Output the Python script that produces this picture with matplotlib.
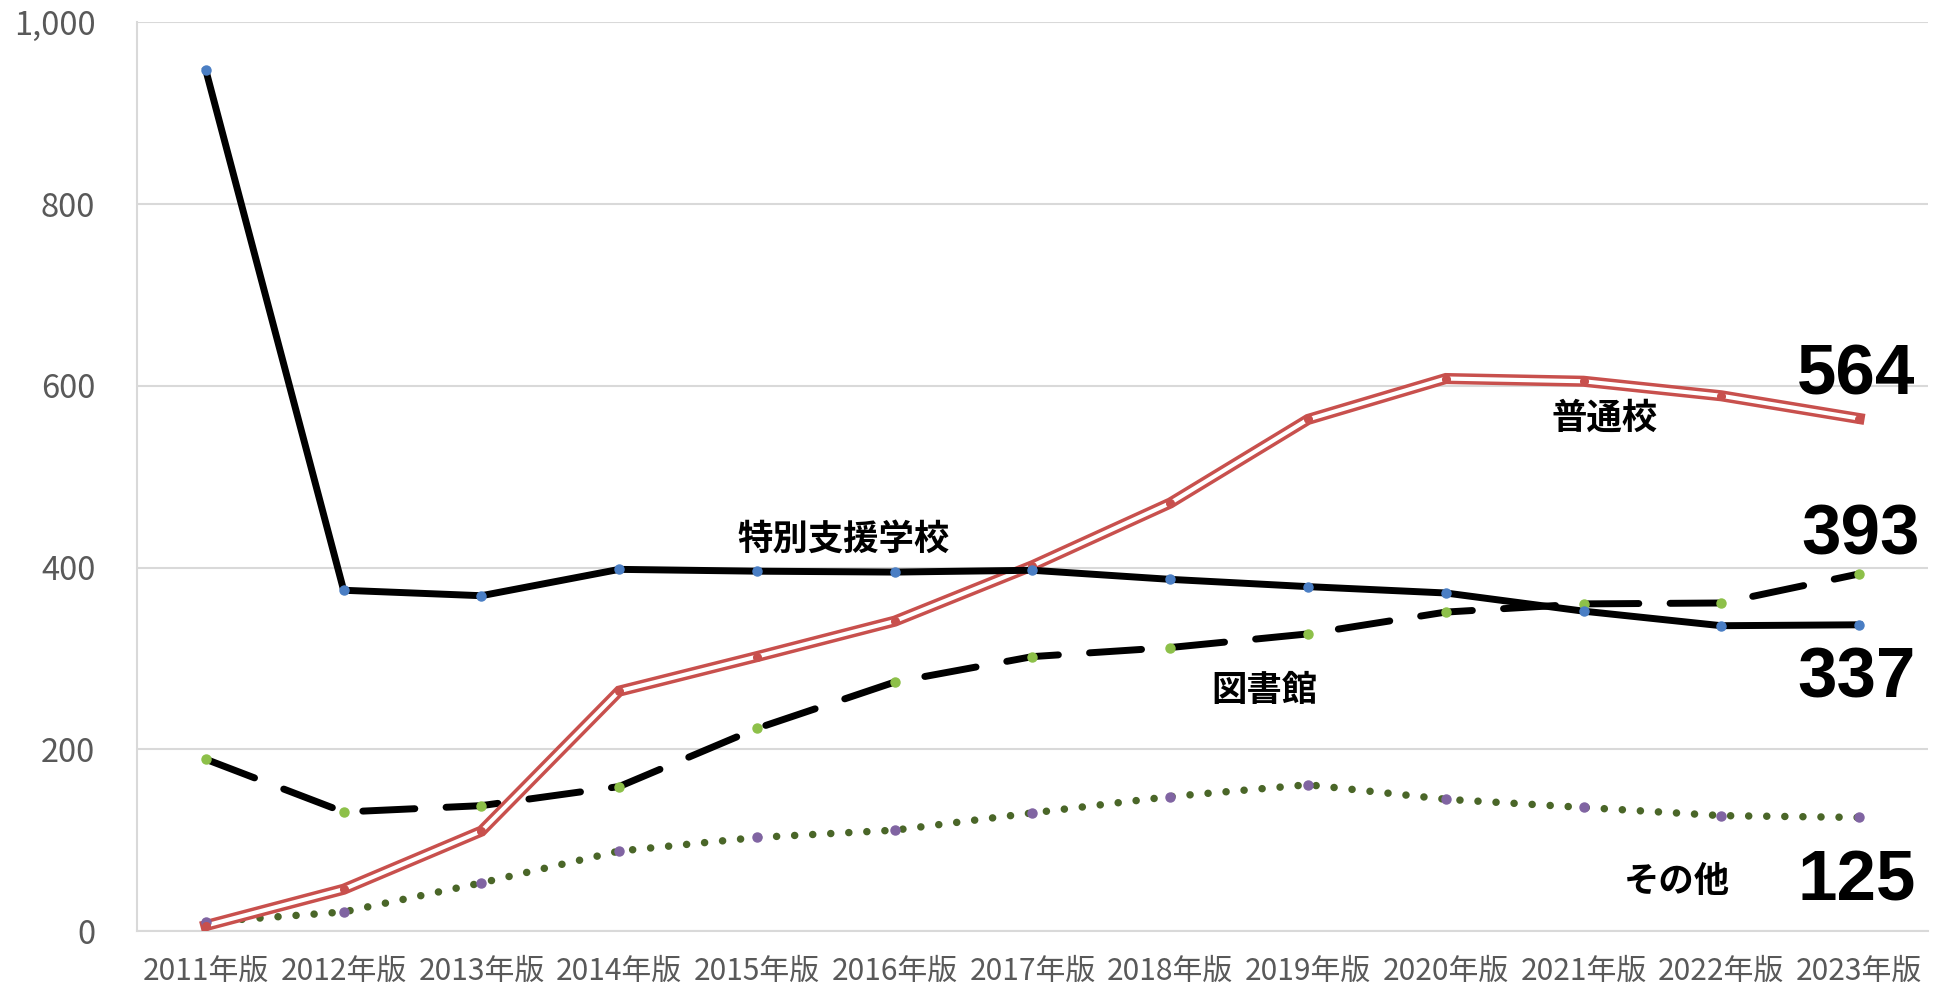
import matplotlib
matplotlib.use("Agg")
import matplotlib.pyplot as plt
from matplotlib.ticker import FuncFormatter

plt.rcParams['font.family'] = ['Noto Sans CJK JP', 'DejaVu Sans']

years = ['2011年版', '2012年版', '2013年版', '2014年版', '2015年版', '2016年版', '2017年版',
         '2018年版', '2019年版', '2020年版', '2021年版', '2022年版', '2023年版']

tokubetsu = [947, 375, 369, 398, 396, 395, 397, 387, 379, 372, 352, 336, 337]   # 特別支援学校
futsu = [6, 46, 110, 264, 302, 341, 402, 471, 563, 608, 605, 589, 564]          # 普通校
toshokan = [189, 131, 138, 159, 223, 274, 302, 312, 327, 351, 360, 361, 393]    # 図書館
sonota = [10, 21, 53, 88, 103, 111, 130, 148, 161, 145, 136, 127, 125]          # その他

x = list(range(len(years)))

fig = plt.figure(figsize=(19.49, 9.91), dpi=100)
ax = fig.add_axes([0.0703, 0.0605, 0.9189, 0.917])

# grid / axes
ax.set_ylim(0, 1000)
ax.set_xlim(-0.5, len(years) - 0.5)
ax.set_yticks(range(0, 1001, 200))
ax.yaxis.set_major_formatter(FuncFormatter(lambda v, p: f'{int(v):,}'))
ax.grid(axis='y', color='#d9d9d9', lw=1.5, zorder=0)
for s in ['top', 'right']:
    ax.spines[s].set_visible(False)
for s in ['left', 'bottom']:
    ax.spines[s].set_color('#d9d9d9')
    ax.spines[s].set_linewidth(1.5)
ax.set_xticks(x)
ax.set_xticklabels(years)
ax.tick_params(length=0, colors='#595959')
ax.tick_params(axis='x', labelsize=21.5, pad=18)
ax.tick_params(axis='y', labelsize=23.5, pad=30)

# その他 - dotted
ax.plot(x, sonota, color='#4a6628', lw=5.4, dashes=(0.01, 2.4), dash_capstyle='round',
        zorder=3)
ax.plot(x, sonota, ls='none', marker='o', ms=6.5, color='#8064a2', zorder=4)

# 図書館 - dashed
ax.plot(x, toshokan, color='black', lw=5, dashes=(7.5, 4.5), dash_capstyle='round', zorder=3)
ax.plot(x, toshokan, ls='none', marker='o', ms=6.5, color='#8dc049', zorder=4)

# 普通校 - double red line
ax.plot(x, futsu, color='#c8504d', lw=8, solid_joinstyle='miter', zorder=3)
ax.plot(x, futsu, color='white', lw=3, solid_joinstyle='miter', zorder=3)
ax.plot(x, futsu, ls='none', marker='o', ms=5.5, color='#c8504d', zorder=4)

# 特別支援学校 - solid black
ax.plot(x, tokubetsu, color='black', lw=5, zorder=3)
ax.plot(x, tokubetsu, ls='none', marker='o', ms=6.5, color='#4a7ec4', zorder=4)

# labels
lab = dict(fontsize=25.5, fontweight='bold', color='black', ha='center', va='center')
ax.text(4.63, 431, '特別支援学校', **lab)
ax.text(10.15, 564, '普通校', **lab)
ax.text(7.68, 265, '図書館', **lab)
ax.text(10.68, 55, 'その他', **lab)

num = dict(fontsize=51, fontweight='bold', color='black', ha='center', va='baseline',
           family='Liberation Sans')
ax.text(11.98, 590, '564', **num)
ax.text(12.01, 414, '393', **num)
ax.text(11.98, 257, '337', **num)
ax.text(11.98, 34, '125', **num)

fig.savefig('out.png', dpi=100)
